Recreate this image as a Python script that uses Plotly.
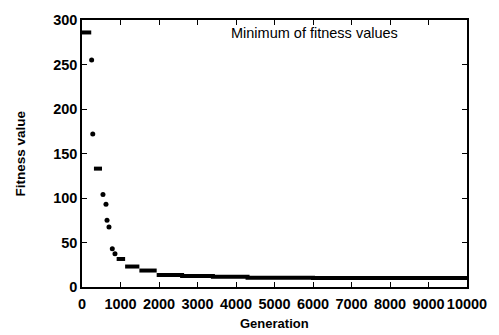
import plotly.graph_objects as go

# Plateaus of the minimum fitness (dense runs of points)
plateau_start = [0, 310, 900, 1120, 1490, 1940, 2600, 3400, 4300, 6000]
plateau_end = [240, 520, 1120, 1490, 1940, 2600, 3400, 4300, 6000, 10000]
plateau_value = [286, 133, 31.5, 23, 18.5, 13.5, 12.5, 11.5, 10.5, 10]

# Isolated points
point_gen = [250, 280, 545, 623, 650, 701, 787, 857]
point_value = [255, 172, 104, 93, 75, 67.5, 43, 37.5]

x_ticks = [0, 1000, 2000, 3000, 4000, 5000, 6000, 7000, 8000, 9000, 10000]
y_ticks = [0, 50, 100, 150, 200, 250, 300]

seg_x, seg_y = [], []
prev_end, prev_v = None, None
for s, e, v in zip(plateau_start, plateau_end, plateau_value):
    if prev_end is not None and (s != prev_end or prev_v - v > 3):
        seg_x.append(None)
        seg_y.append(None)
    seg_x += [s, e]
    seg_y += [v, v]
    prev_end, prev_v = e, v

fig = go.Figure()
fig.add_trace(go.Scatter(x=seg_x, y=seg_y, mode="lines", line_shape="hv",
                         line=dict(color="black", width=4), showlegend=False,
                         hoverinfo="skip"))
fig.add_trace(go.Scatter(x=point_gen, y=point_value, mode="markers",
                         marker=dict(color="black", size=5), showlegend=False))

tick_font = dict(family="Liberation Sans", size=14.5, color="black")
axis_common = dict(showgrid=False, zeroline=False, showline=True, linecolor="black",
                   linewidth=1.5, mirror="allticks", ticks="inside", ticklen=5,
                   tickwidth=1, tickcolor="black", tickfont=tick_font)

fig.update_layout(
    width=499, height=335,
    margin=dict(l=82, r=32, t=13, b=48),
    paper_bgcolor="white", plot_bgcolor="white",
    xaxis=dict(range=[0, 10000], tickvals=x_ticks,
               ticktext=[f"<b>{v}</b>" for v in x_ticks],
               ticklabelstandoff=3, **axis_common),
    yaxis=dict(range=[0, 300], tickvals=y_ticks,
               ticktext=[f"<b>{v}</b>" for v in y_ticks], **axis_common),
    annotations=[
        dict(text="Minimum of fitness values", xref="paper", yref="paper",
             x=0.605, y=0.951, xanchor="center", yanchor="middle", showarrow=False,
             font=dict(family="Liberation Sans", size=14.5, color="black")),
        dict(text="<b>Fitness value</b>", xref="paper", yref="paper",
             x=-0.161, y=0.5, xanchor="center", yanchor="middle", showarrow=False,
             textangle=-90,
             font=dict(family="Liberation Sans", size=13.5, color="black")),
        dict(text="<b>Generation</b>", xref="paper", yref="paper",
             x=0.5, y=-0.135, xanchor="center", yanchor="middle", showarrow=False,
             font=dict(family="Liberation Sans", size=13, color="black")),
    ],
)

fig.write_html("out.html")
